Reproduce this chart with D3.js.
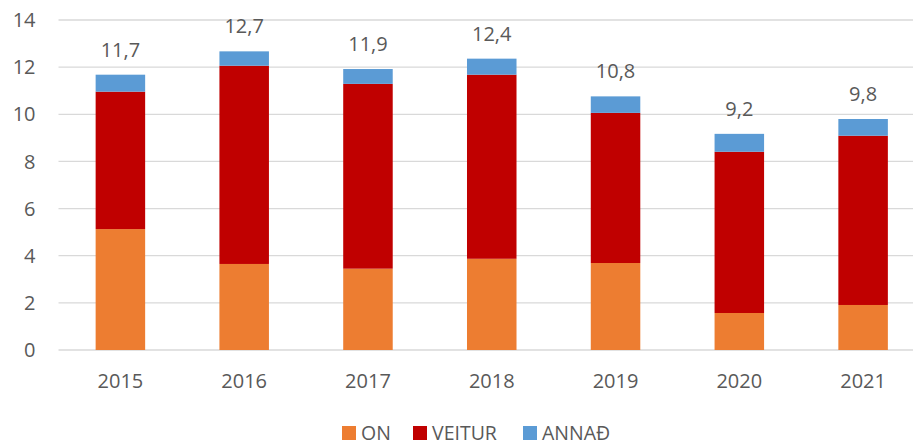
<html>
<head>
<meta charset="utf-8">
<script src="https://d3js.org/d3.v7.min.js"></script>
<style>
  body { margin: 0; background: #fff; }
  text { font-family: "Open Sans", sans-serif; fill: #595959; }
</style>
</head>
<body>
<svg id="chart" width="913" height="444"></svg>
<script>
const years = ["2015", "2016", "2017", "2018", "2019", "2020", "2021"];
const seriesNames = ["ON", "VEITUR", "ANNAÐ"];
const onValues = [5.13, 3.65, 3.45, 3.87, 3.69, 1.57, 1.91];
const veiturValues = [5.83, 8.41, 7.84, 7.81, 6.37, 6.84, 7.18];
const annadValues = [0.72, 0.61, 0.63, 0.68, 0.70, 0.76, 0.71];
const yTicks = [0, 2, 4, 6, 8, 10, 12, 14];
const colors = ["#ED7D31", "#C00000", "#5B9BD5"];

const svg = d3.select("#chart");
const margin = { top: 20, right: -12, bottom: 94, left: 58.5 };
const width = 913 - margin.left - margin.right;
const height = 444 - margin.top - margin.bottom;
const g = svg.append("g").attr("transform", "translate(" + margin.left + "," + margin.top + ")");

// build a table for d3.stack
const table = years.map((y, i) => ({
  year: y, ON: onValues[i], VEITUR: veiturValues[i], "ANNAÐ": annadValues[i]
}));
const stacked = d3.stack().keys(seriesNames)(table);

const x = d3.scaleBand().domain(years).range([0, width]).paddingInner(0.6).paddingOuter(0.3);
const y = d3.scaleLinear().domain([0, 14]).range([height, 0]);

// gridlines
g.selectAll("line.grid")
  .data(yTicks)
  .join("line")
  .attr("class", "grid")
  .attr("x1", 0).attr("x2", width)
  .attr("y1", d => y(d)).attr("y2", d => y(d))
  .attr("stroke", "#D9D9D9")
  .attr("stroke-width", 1.3);

// y tick labels
g.selectAll("text.ytick")
  .data(yTicks)
  .join("text")
  .attr("class", "ytick")
  .attr("x", -23)
  .attr("y", d => y(d))
  .attr("dy", "0.36em")
  .attr("text-anchor", "end")
  .style("font-size", "20px")
  .text(d => d);

// bars
g.selectAll("g.series")
  .data(stacked)
  .join("g")
  .attr("class", "series")
  .attr("fill", (d, i) => colors[i])
  .selectAll("rect")
  .data(d => d)
  .join("rect")
  .attr("x", d => x(d.data.year))
  .attr("width", x.bandwidth())
  .attr("y", d => y(d[1]))
  .attr("height", d => y(d[0]) - y(d[1]));

// total labels
const fmt = v => d3.format(".1f")(v).replace(".", ",");
g.selectAll("text.total")
  .data(table)
  .join("text")
  .attr("class", "total")
  .attr("x", d => x(d.year) + x.bandwidth() / 2)
  .attr("y", d => y(d.ON + d.VEITUR + d["ANNAÐ"]) - 18)
  .attr("text-anchor", "middle")
  .style("font-size", "20px")
  .text(d => fmt(d.ON + d.VEITUR + d["ANNAÐ"]));

// x labels
g.selectAll("text.xtick")
  .data(years)
  .join("text")
  .attr("class", "xtick")
  .attr("x", d => x(d) + x.bandwidth() / 2)
  .attr("y", height + 38)
  .attr("text-anchor", "middle")
  .style("font-size", "20px")
  .text(d => d);

// legend
const legendX = [342, 413, 523];
const legend = svg.selectAll("g.legend")
  .data(seriesNames)
  .join("g")
  .attr("class", "legend")
  .attr("transform", (d, i) => "translate(" + legendX[i] + ",426)");
legend.append("rect")
  .attr("width", 14).attr("height", 14)
  .attr("fill", (d, i) => colors[i]);
legend.append("text")
  .attr("x", 19)
  .attr("y", 13.5)
  .style("font-size", "19.5px")
  .text(d => d);
</script>
</body>
</html>
